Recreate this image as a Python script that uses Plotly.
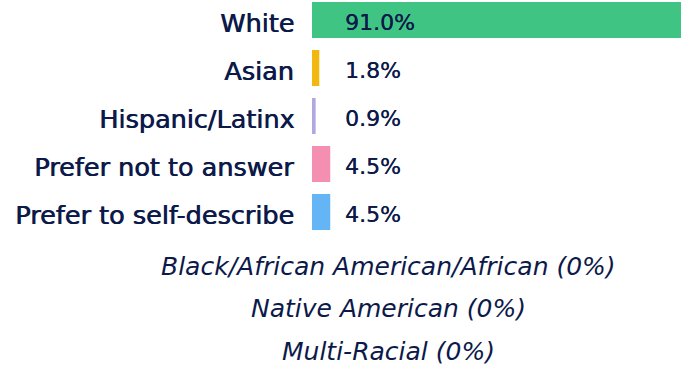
import plotly.graph_objects as go

# Respondent race / ethnicity breakdown
categories = ["White", "Asian", "Hispanic/Latinx", "Prefer not to answer", "Prefer to self-describe"]
shares = [91.0, 1.8, 0.9, 4.5, 4.5]
bar_colors = ["#40c483", "#f3b80f", "#b3a7e3", "#f48fb1", "#64b5f6"]
zero_groups = ["Black/African American/African", "Native American", "Multi-Racial"]
zero_shares = [0, 0, 0]

NAVY = "#0c1a4a"
FONT = "DejaVu Sans"

positions = list(range(len(categories)))

fig = go.Figure(go.Bar(
    x=shares,
    y=positions,
    orientation="h",
    marker=dict(color=bar_colors, line=dict(width=0)),
    width=0.75,
    hoverinfo="skip",
))

annotations = []
for pos, name, val in zip(positions, categories, shares):
    annotations.append(dict(
        xref="paper", yref="y", x=0, y=pos, xshift=-16, yshift=-3,
        xanchor="right", yanchor="middle", showarrow=False,
        text=name,
        font=dict(family=FONT, size=25.5, color=NAVY, shadow=f"0.7px 0 0 {NAVY}"),
    ))
    annotations.append(dict(
        xref="x", yref="y", x=0, y=pos, xshift=31, yshift=-2,
        xanchor="left", yanchor="middle", showarrow=False,
        text=f"{val:.1f}%",
        font=dict(family=FONT, size=22, color=NAVY, shadow=f"0.3px 0 0 {NAVY}"),
    ))

note_y = [266, 308, 351]
for name, val, py in zip(zero_groups, zero_shares, note_y):
    annotations.append(dict(
        xref="paper", yref="paper", x=(388.5 - 312) / 369, y=(366 - py - 130) / 236,
        xanchor="center", yanchor="middle", showarrow=False,
        text=f"<i>{name} ({val}%)</i>",
        font=dict(family=FONT, size=25, color=NAVY),
    ))

fig.update_layout(
    width=687, height=366,
    margin=dict(l=312, r=6, t=0, b=130),
    paper_bgcolor="white", plot_bgcolor="white",
    showlegend=False,
    xaxis=dict(range=[0, 91.0], visible=False, fixedrange=True),
    yaxis=dict(range=[4.5, -0.5 + 4 / 48], visible=False, fixedrange=True),
    annotations=annotations,
)

fig.write_html("out.html", config={"displayModeBar": False})
